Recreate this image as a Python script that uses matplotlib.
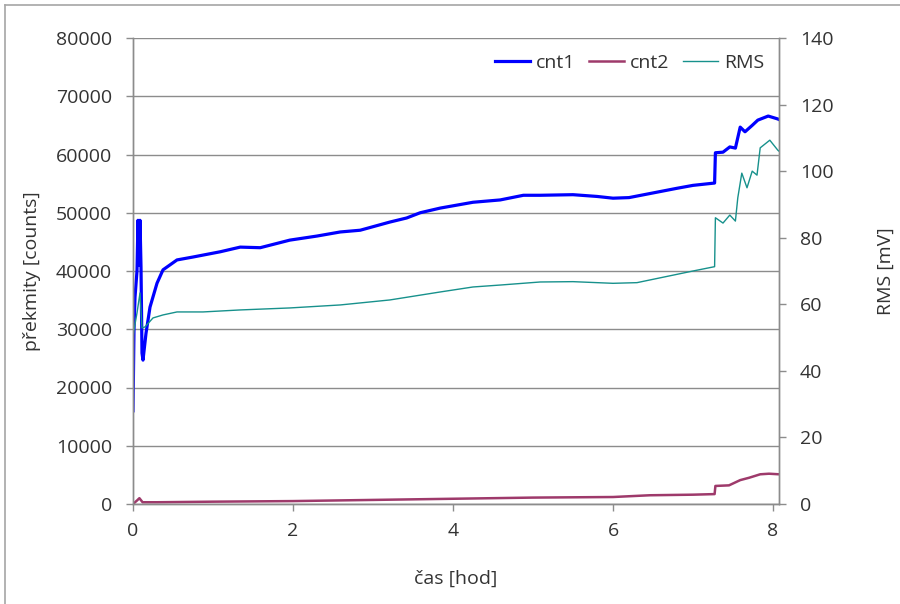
import matplotlib
matplotlib.use("Agg")
import matplotlib.pyplot as plt
from matplotlib.lines import Line2D

matplotlib.rcParams['font.family'] = ['Open Sans', 'DejaVu Sans']

# ---------- data (time in hours) ----------
cnt1_t = [0, 0.0125, 0.025, 0.05, 0.0625, 0.075, 0.0875, 0.1, 0.1125, 0.125,
          0.1625, 0.2125, 0.3, 0.375, 0.55, 0.75, 1.09, 1.34, 1.59, 1.96,
          2.3, 2.59, 2.84, 3.21, 3.42, 3.59, 3.84, 4.25, 4.59, 4.88,
          5.09, 5.5, 5.8, 6.0, 6.2, 6.5, 6.8, 7.0, 7.27, 7.28,
          7.375, 7.46, 7.53, 7.59, 7.65, 7.74, 7.81, 7.94, 8.06, 8.075]
cnt1 = [16000, 30000, 35500, 40000, 48700, 41000, 48700, 40700, 25900, 24700,
        29300, 33800, 37900, 40200, 41900, 42400, 43300, 44100, 44000, 45300,
        46000, 46700, 47000, 48400, 49100, 50000, 50800, 51800, 52200, 53000,
        53000, 53100, 52800, 52500, 52600, 53400, 54200, 54700, 55100, 60300,
        60400, 61300, 61100, 64700, 63900, 65000, 65900, 66600, 66100, 66000]

cnt2_t = [0, 0.05, 0.08, 0.12, 0.3, 1, 2, 3, 4, 5,
          6, 6.46, 7.0, 7.27, 7.28, 7.45, 7.59, 7.7, 7.84, 7.95, 8.075]
cnt2 = [0, 600, 1000, 300, 300, 400, 500, 700, 900, 1100,
        1200, 1500, 1600, 1700, 3100, 3200, 4100, 4500, 5100, 5200, 5100]

rms_t = [0, 0.0125, 0.05, 0.0875, 0.1, 0.1125, 0.15, 0.25, 0.375, 0.55,
         0.875, 1.34, 1.96, 2.59, 3.21, 3.84, 4.25, 4.6, 5.09, 5.5,
         6.0, 6.3, 6.5, 6.8, 7.0, 7.27, 7.28, 7.375, 7.46, 7.53,
         7.56, 7.61, 7.675, 7.74, 7.8, 7.84, 7.96, 8.06, 8.075]
rms = [50, 52.3, 57.4, 63.4, 58, 52.9, 53.2, 55.9, 56.8, 57.7,
       57.7, 58.3, 58.9, 59.8, 61.3, 63.7, 65.2, 65.8, 66.7, 66.8,
       66.3, 66.5, 67.5, 69, 70, 71.3, 86, 84.4, 86.8, 85,
       92, 99.4, 95, 100, 98.8, 107, 109.3, 106.3, 106]

C_CNT1 = "#0000FF"
C_CNT2 = "#9E3A6B"
C_RMS = "#17918C"
GRID = "#8C8C8C"
TEXT = "#333333"
FS = 14

fig = plt.figure(figsize=(9, 6.04), dpi=100)
ax = fig.add_axes([133 / 900, 100 / 604, 646 / 900, 466 / 604])
ax2 = ax.twinx()

ax.plot(cnt1_t, cnt1, color=C_CNT1, linewidth=2.3, label="cnt1")
ax.plot(cnt2_t, cnt2, color=C_CNT2, linewidth=1.8, label="cnt2")
ax2.plot(rms_t, rms, color=C_RMS, linewidth=1.0, label="RMS")

ax.set_xlim(0, 8.075)
ax.set_ylim(0, 80000)
ax2.set_ylim(0, 140)
ax.set_xticks([0, 2, 4, 6, 8])
ax.set_yticks(range(0, 80001, 10000))
ax2.set_yticks(range(0, 141, 20))

ax.yaxis.grid(True, color=GRID, linewidth=1.0)
ax.set_axisbelow(True)

for a in (ax, ax2):
    a.spines["top"].set_visible(False)
    for s in ("left", "right", "bottom"):
        a.spines[s].set_color(GRID)
        a.spines[s].set_linewidth(1.0)
    a.tick_params(axis="both", direction="out", length=5, width=1.0,
                  color=GRID, labelcolor=TEXT, labelsize=FS, pad=8)
ax.tick_params(axis="y", pad=10)
ax2.tick_params(axis="y", pad=10)

ax.set_xlabel("čas [hod]", fontsize=FS, color=TEXT)
ax.xaxis.set_label_coords(0.5, -0.141)
ax.set_ylabel("překmity [counts]", fontsize=FS, color=TEXT)
ax.yaxis.set_label_coords(-0.142, 0.5)
ax2.set_ylabel("RMS [mV]", fontsize=FS, color=TEXT)
ax2.yaxis.set_label_coords(1.151, 0.5)

handles = [Line2D([], [], color=C_CNT1, linewidth=2.3),
           Line2D([], [], color=C_CNT2, linewidth=1.8),
           Line2D([], [], color=C_RMS, linewidth=1.0)]
leg = ax2.legend(handles, ["cnt1", "cnt2", "RMS"], loc="center right",
                 bbox_to_anchor=(0.977, 0.946), ncol=3, frameon=False,
                 fontsize=FS, handlelength=1.8, handletextpad=0.3,
                 columnspacing=0.7, borderaxespad=0, borderpad=0)
for t in leg.get_texts():
    t.set_color(TEXT)

# chart-area border (cropped on the right and bottom)
fig.add_artist(Line2D([5 / 900, 1], [1 - 4.5 / 604] * 2, color="#A6A6A6",
                      linewidth=1.2, transform=fig.transFigure))
fig.add_artist(Line2D([5 / 900] * 2, [0, 1 - 4.5 / 604], color="#A6A6A6",
                      linewidth=1.2, transform=fig.transFigure))

fig.savefig("out.png", facecolor="white")
